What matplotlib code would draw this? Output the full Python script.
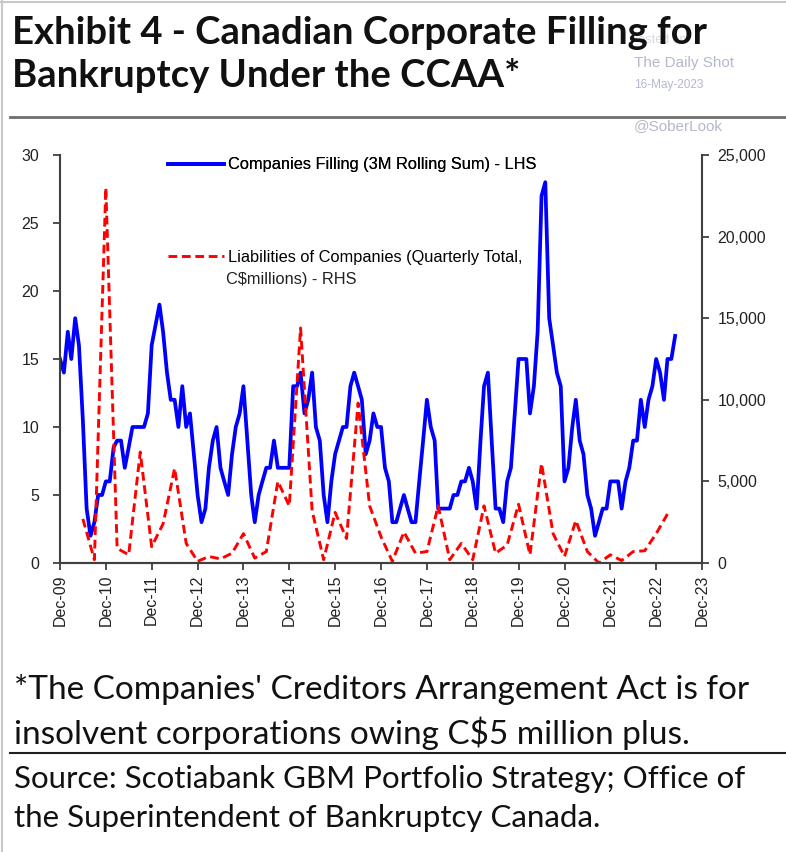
import matplotlib
matplotlib.use("Agg")

import numpy as np
import pandas as pd
import matplotlib.pyplot as plt
import matplotlib.dates as mdates
from matplotlib.ticker import FuncFormatter, MultipleLocator
from matplotlib.lines import Line2D

# ── Data ──────────────────────────────────────────────────────────────────────
# Companies filing, 3M rolling sum, monthly Dec-09 .. May-23 (LHS)
filings_dates = pd.date_range("2009-12-01", periods=162, freq="MS")
filings = [
    15, 14, 17, 15, 18, 16, 10.5, 4, 2, 3,          # Dec-09 ..
    5, 5, 6, 6, 8.5, 9, 9, 7, 8.5, 10,
    10, 10, 10, 11, 16, 17.5, 19, 17, 14, 12,
    12, 10, 13, 10, 11, 8, 5, 3, 4, 7,
    9, 10, 7, 6, 5, 8, 10, 11, 13, 9,
    5, 3, 5, 6, 7, 7, 9, 7, 7, 7,
    7, 13, 13, 14, 11, 12, 14, 10, 9, 5,
    3, 6, 8, 9, 10, 10, 13, 14, 13, 12,
    8, 9, 11, 10, 10, 7, 6, 3, 3, 4,
    5, 4, 3, 3, 6, 9, 12, 10, 9, 4,
    4, 4, 4, 5, 5, 6, 6, 7, 6, 4,
    9, 13, 14, 9, 4, 4, 3, 6, 7, 11,
    15, 15, 15, 11, 13, 17, 27, 28, 18, 16,
    14, 13, 6, 7, 10, 12, 9, 8, 5, 4,
    2, 3, 4, 4, 6, 6, 6, 4, 6, 7,
    9, 9, 12, 10, 12, 13, 15, 14, 12, 15,
    15, 16.7,
]

# Liabilities, quarterly total in C$ millions, Jun-10 .. Mar-23 (RHS)
liab_dates = pd.date_range("2010-06-01", periods=52, freq="3MS")
liabilities = [
    2700, 200, 23000, 900, 500, 6800, 1000, 2400, 5800, 1200,
    100, 400, 250, 600, 1800, 300, 700, 5000, 3500, 14400,
    3200, 200, 3100, 1500, 9800, 3500, 1600, 100, 1900, 600,
    700, 3500, 200, 1200, 200, 3500, 600, 1100, 3600, 500,
    6100, 1800, 400, 2600, 700, 0, 500, 150, 700, 750,
    1800, 3000,
]

TITLE_1 = "Exhibit 4 - Canadian Corporate Filling for"
TITLE_2 = "Bankruptcy Under the CCAA*"
LBL_FILINGS = "Companies Filling (3M Rolling Sum) - LHS"
LBL_LIAB = "Liabilities of Companies (Quarterly Total,"
LBL_LIAB_2 = "C$millions) - RHS"
FOOTNOTE = ("*The Companies' Creditors Arrangement Act is for\n"
            "insolvent corporations owing C$5 million plus.")
SOURCE = ("Source: Scotiabank GBM Portfolio Strategy; Office of\n"
          "the Superintendent of Bankruptcy Canada.")

BLUE = "#0000ff"
RED = "#ff0000"
AXCOL = "#404040"

plt.rcParams["font.family"] = ["Liberation Sans", "DejaVu Sans"]

fig = plt.figure(figsize=(7.86, 8.52), dpi=100)
W, H = 786, 852

# frame edges and rules
fig.add_artist(Line2D([2 / W, 2 / W], [0, 1], color="#c8c8c8", lw=1.5))
fig.add_artist(Line2D([0, 1], [1 - 2 / H, 1 - 2 / H], color="#c8c8c8", lw=1.5))
fig.add_artist(Line2D([10 / W, 1], [1 - 117 / H] * 2, color="#6e6e6e", lw=2))
fig.add_artist(Line2D([10 / W, 1], [1 - 753 / H] * 2, color="#202020", lw=1.5))

# watermark (drawn first so the title sits over "Posted on")
wm = "#b4b8cc"
fig.text(630 / W, 1 - 40 / H, "Posted on", fontsize=9, color="#d8d8e0", va="center")
fig.text(634 / W, 1 - 63 / H, "The Daily Shot", fontsize=11, color=wm, va="center")
fig.text(634 / W, 1 - 85 / H, "16-May-2023", fontsize=8.5, color=wm, va="center")
fig.text(634 / W, 1 - 126 / H, "@SoberLook", fontsize=11, color=wm, va="center")

# title / footer text
title_kw = dict(ha="left", va="baseline", fontsize=27.5, fontweight="bold",
                family="Lato", color="#111111")
fig.text(12 / W, 1 - 44 / H, TITLE_1, **title_kw)
fig.text(12 / W, 1 - 87 / H, TITLE_2, **title_kw)
fig.text(14 / W, 1 - 674 / H, FOOTNOTE, ha="left", va="top", fontsize=24,
         family="Lato", linespacing=1.42, color="#111111")
fig.text(14 / W, 1 - 765 / H, SOURCE, ha="left", va="top", fontsize=22.5,
         family="Lato", linespacing=1.48, color="#111111")

# ── Axes ──────────────────────────────────────────────────────────────────────
ax = fig.add_axes([60 / W, 1 - 563 / H, 642 / W, 408 / H])
ax2 = ax.twinx()

ax.plot(filings_dates, filings, color=BLUE, lw=2.7, label=LBL_FILINGS)
ax2.plot(liab_dates, liabilities, color=RED, lw=2.1, dashes=(3, 1.6),
         label=LBL_LIAB)

ax.set_xlim(pd.Timestamp("2009-12-01"), pd.Timestamp("2023-12-01"))
ax.set_ylim(0, 30)
ax2.set_ylim(0, 25000)
ax.yaxis.set_major_locator(MultipleLocator(5))
ax2.yaxis.set_major_locator(MultipleLocator(5000))
ax2.yaxis.set_major_formatter(FuncFormatter(lambda v, p: f"{v:,.0f}"))

ax.xaxis.set_major_locator(mdates.MonthLocator(bymonth=12))
ax.xaxis.set_major_formatter(mdates.DateFormatter("%b-%y"))
for lbl in ax.get_xticklabels():
    lbl.set_rotation(90)

for a in (ax, ax2):
    for s in a.spines.values():
        s.set_color(AXCOL)
        s.set_linewidth(1.5)
    a.spines["top"].set_visible(False)
    a.tick_params(colors=AXCOL, labelcolor="#222222", labelsize=11.5,
                  width=1.3, length=5)
ax.spines["right"].set_visible(False)
ax2.spines["left"].set_visible(False)
ax.tick_params(axis="y", pad=10)
ax2.tick_params(axis="y", pad=6)

leg_kw = dict(loc="upper left", frameon=False, fontsize=11.8, handlelength=3.4,
              handletextpad=0.25, borderpad=0, borderaxespad=0)
leg1 = ax.legend(bbox_to_anchor=(0.168, 0.994), **leg_kw)
ax.add_artist(leg1)
ax2.legend(bbox_to_anchor=(0.168, 0.768), **leg_kw)
ax2.text(0.2586, 0.695, LBL_LIAB_2, transform=ax2.transAxes, fontsize=11.8,
         va="center", ha="left", color="#222222")

fig.savefig("out.png", dpi=100)
